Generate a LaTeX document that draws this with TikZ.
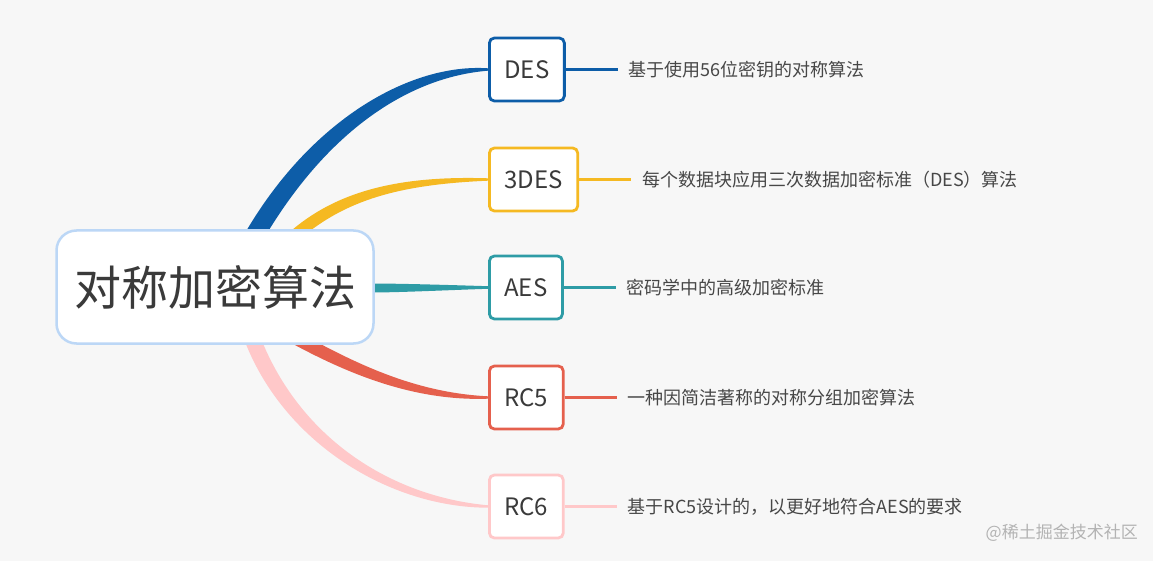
\documentclass[tikz,border=0pt]{standalone}
\usepackage{fontspec}
\setmainfont{Noto Sans CJK SC}
\usetikzlibrary{calc,positioning}
\pgfdeclarelayer{back}
\pgfdeclarelayer{branch}
\pgfsetlayers{back,branch,main}
\definecolor{bgc}{HTML}{F7F7F7}
\definecolor{cdes}{HTML}{0D5DA8}
\definecolor{cthree}{HTML}{F5B922}
\definecolor{caes}{HTML}{2E9CA6}
\definecolor{crcfive}{HTML}{E5604D}
\definecolor{crcsix}{HTML}{FFC8C9}
\definecolor{rootc}{HTML}{BCD7F6}
\definecolor{txt}{HTML}{3A3A3A}
\definecolor{txttwo}{HTML}{474747}
\definecolor{wmc}{HTML}{B3B3B3}
% color, start, ctrl1, ctrl2, end, half width start, half width at ctrl2, half width end
\newcommand\mmbranch[8]{%
  \path (#2) coordinate (bS) (#3) coordinate (bC) (#4) coordinate (bD) (#5) coordinate (bE);
  \path ($(bS)!#6!90:(bC)$) coordinate (bSa) ($(bS)!#6!-90:(bC)$) coordinate (bSb)
        ($(bD)!#7!90:(bE)$) coordinate (bDa) ($(bD)!#7!-90:(bE)$) coordinate (bDb)
        ($(bE)!#8!-90:(bD)$) coordinate (bEa) ($(bE)!#8!90:(bD)$) coordinate (bEb);
  \fill[#1] (bSa) .. controls ($(bC)+(bSa)-(bS)$) and (bDa) .. (bEa)
     -- (bEb) .. controls (bDb) and ($(bC)+(bSb)-(bS)$) .. (bSb) -- cycle;
}
\begin{document}
\begin{tikzpicture}[x=1pt,y=-1pt,
  rootbox/.style={draw=rootc, line width=2.5pt, fill=white, rounded corners=20pt,
    minimum width=317pt, minimum height=113pt, inner sep=0pt,
    font=\fontsize{47}{56}\selectfont, text=txt},
  topic/.style={draw=#1, line width=2.8pt, fill=white, rounded corners=5pt,
    minimum height=63pt, inner xsep=15pt, inner ysep=0pt,
    font=\fontsize{24}{28}\selectfont, text=txt, anchor=west},
  desc/.style={font=\fontsize{18}{22}\selectfont, text=txttwo, inner xsep=11pt,
    inner ysep=0pt, outer sep=0pt, anchor=west},
  link/.style={draw=#1, line width=2.5pt}]
\useasboundingbox (0,0) rectangle (1153,561);
\begin{pgfonlayer}{back}
  \fill[bgc] (0,0) rectangle (1153,561);
\end{pgfonlayer}

\node[rootbox] (root) at (215,287) {对称加密算法};

\node[topic=cdes] (des) at (488,69.5) {DES};
\node[topic=cthree] (tdes) at (488,179.5) {3DES};
\node[topic=caes] (aes) at (488,287.5) {AES};
\node[topic=crcfive] (rcf) at (488,397.5) {RC5};
\node[topic=crcsix] (rcs) at (488,506.5) {RC6};

\node[desc, right=52pt of des] (desd) {基于使用56位密钥的对称算法};
\node[desc, right=52pt of tdes] (tdesd) {每个数据块应用三次数据加密标准（DES）算法};
\node[desc, right=52pt of aes] (aesd) {密码学中的高级加密标准};
\node[desc, right=52pt of rcf] (rcfd) {一种因简洁著称的对称分组加密算法};
\node[desc, right=52pt of rcs] (rcsd) {基于RC5设计的，以更好地符合AES的要求};

\draw[link=cdes] (des) -- (desd);
\draw[link=cthree] (tdes) -- (tdesd);
\draw[link=caes] (aes) -- (aesd);
\draw[link=crcfive] (rcf) -- (rcfd);
\draw[link=crcsix] (rcs) -- (rcsd);

\begin{pgfonlayer}{branch}
  \coordinate (sdes) at (252,240);
  \coordinate (sthree) at (292,238);
  \coordinate (saes) at (370,288);
  \coordinate (srcf) at (290,335);
  \coordinate (srcs) at (251,335);
  \mmbranch{cdes}{sdes}{318,125}{410,70}{des.west}{9.5pt}{7pt}{1.2pt}
  \mmbranch{cthree}{sthree}{340,195}{400,180}{tdes.west}{6pt}{4.5pt}{1.2pt}
  \mmbranch{caes}{saes}{400,288}{450,287.5}{aes.west}{4.5pt}{2.5pt}{1.3pt}
  \mmbranch{crcfive}{srcf}{345,365}{410,397}{rcf.west}{6.5pt}{4.5pt}{1.2pt}
  \mmbranch{crcsix}{srcs}{290,440}{390,502}{rcs.west}{8pt}{5.5pt}{1.2pt}
\end{pgfonlayer}

\node[font=\fontsize{17}{20}\selectfont, text=wmc, anchor=east, inner sep=0pt] (wm) at (1138,533) {@稀土掘金技术社区};
\end{tikzpicture}
\end{document}
